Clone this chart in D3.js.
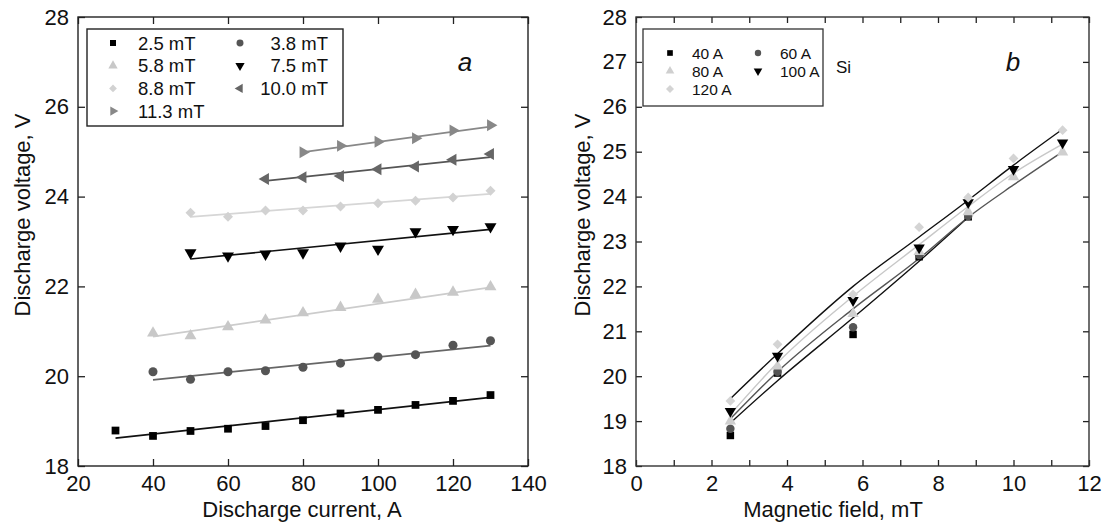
<!DOCTYPE html>
<html>
<head>
<meta charset="utf-8">
<script src="https://cdn.jsdelivr.net/npm/d3@7"></script>
<style>
  body { margin: 0; background: #fff; }
  svg text { font-family: "Liberation Sans", Arial, sans-serif; fill: #111; }
</style>
</head>
<body>
<div id="chart"></div>
<script>
// Panel a: voltage vs current for each field
var fieldLabels = ["2.5 mT", "3.8 mT", "5.8 mT", "7.5 mT", "8.8 mT", "10.0 mT", "11.3 mT"];
var current25 = [30, 40, 50, 60, 70, 80, 90, 100, 110, 120, 130];
var voltage25 = [18.79, 18.67, 18.78, 18.83, 18.89, 19.02, 19.17, 19.25, 19.36, 19.45, 19.58];
var current38 = [40, 50, 60, 70, 80, 90, 100, 110, 120, 130];
var voltage38 = [20.10, 19.93, 20.10, 20.12, 20.20, 20.29, 20.43, 20.48, 20.69, 20.79];
var current58 = [40, 50, 60, 70, 80, 90, 100, 110, 120, 130];
var voltage58 = [20.96, 20.90, 21.10, 21.25, 21.41, 21.53, 21.71, 21.82, 21.87, 21.99];
var current75 = [50, 60, 70, 80, 90, 100, 110, 120, 130];
var voltage75 = [22.75, 22.68, 22.72, 22.75, 22.90, 22.83, 23.22, 23.27, 23.33];
var current88 = [50, 60, 70, 80, 90, 100, 110, 120, 130];
var voltage88 = [23.64, 23.55, 23.69, 23.69, 23.78, 23.85, 23.91, 23.98, 24.13];
var current100 = [70, 80, 90, 100, 110, 120, 130];
var voltage100 = [24.39, 24.43, 24.46, 24.61, 24.67, 24.82, 24.95];
var current113 = [80, 90, 100, 110, 120, 130];
var voltage113 = [24.99, 25.13, 25.22, 25.30, 25.47, 25.59];
// linear fits, [start, end]
var fitCurrentA = [[30, 130], [40, 130], [40, 130], [50, 130], [50, 130], [70, 130], [80, 130]];
var fitVoltageA = [[18.62, 19.53], [19.92, 20.68], [20.88, 21.98], [22.61, 23.27], [23.55, 24.06], [24.35, 24.88], [24.99, 25.56]];

// Panel b: voltage vs field for each current
var currentLabels = ["40 A", "60 A", "80 A", "100 A", "120 A"];
var field = [2.5, 3.75, 5.75, 7.5, 8.8, 10, 11.3];
var v40 = [18.68, 20.07, 20.93, 22.66, 23.55];
var v60 = [18.83, 20.10, 21.09, 22.70, 23.57];
var v80 = [19.00, 20.22, 21.39, 22.77, 23.66, 24.44, 24.99];
var v100 = [19.22, 20.45, 21.69, 22.86, 23.87, 24.61, 25.20];
var v120 = [19.45, 20.71, 21.82, 23.32, 23.98, 24.85, 25.48];
// fitted curves
var fitTop = [19.50, 20.50, 22.00, 23.10, 23.92, 24.70, 25.50];
var fitLight = [19.15, 20.30, 21.78, 22.93, 23.78, 24.52, 25.17];
var fitGray = [19.05, 20.10, 21.50, 22.62, 23.54, 24.26, 25.00];
var fitBottom = [18.96, 19.90, 21.30, 22.56, 23.54];

var xTicksA = [20, 40, 60, 80, 100, 120, 140];
var yTicksA = [18, 20, 22, 24, 26, 28];
var xTicksB = d3.range(0, 13);
var yTicksB = d3.range(18, 29);

// styles
var symA = [d3.symbolSquare, d3.symbolCircle, d3.symbolTriangle, d3.symbolTriangle, d3.symbolSquare, d3.symbolTriangle, d3.symbolTriangle];
var rotA = [0, 0, 0, 180, 45, -90, 90];
var colA = ["#000", "#555", "#c8c8c8", "#000", "#d2d2d2", "#666", "#888"];
var lineColA = ["#111", "#666", "#ccc", "#111", "#d6d6d6", "#555", "#888"];
var sizeA = [60, 64, 62, 62, 50, 62, 62];
var symB = [d3.symbolSquare, d3.symbolCircle, d3.symbolTriangle, d3.symbolTriangle, d3.symbolSquare];
var rotB = [0, 0, 0, 180, 45];
var colB = ["#000", "#555", "#cfcfcf", "#000", "#d4d4d4"];

var width = 1106, height = 523;
var svg = d3.select("#chart").append("svg")
    .attr("width", width)
    .attr("height", height);

var xA = d3.scaleLinear().domain([20, 140]).range([78, 528]);
var yA = d3.scaleLinear().domain([18, 28]).range([466, 17]);
var xB = d3.scaleLinear().domain([0, 12]).range([636, 1089]);
var yB = d3.scaleLinear().domain([18, 28]).range([466, 17]);

function frame(x, y, color) {
    var x0 = x.range()[0], x1 = x.range()[1], y0 = y.range()[1], y1 = y.range()[0];
    svg.append("rect")
        .attr("x", x0).attr("y", y0)
        .attr("width", x1 - x0).attr("height", y1 - y0)
        .attr("fill", "none").attr("stroke", color).attr("stroke-width", 1.4);
}

function axes(x, y, xt, yt, xfmt, tick) {
    var x0 = x.range()[0], x1 = x.range()[1], y0 = y.range()[1], y1 = y.range()[0];
    var b = svg.append("g").attr("transform", `translate(0, ${y1})`)
        .call(d3.axisBottom(x).tickValues(xt).tickSizeInner(-tick).tickSizeOuter(0).tickPadding(9).tickFormat(xfmt));
    var t = svg.append("g").attr("transform", `translate(0, ${y0})`)
        .call(d3.axisTop(x).tickValues(xt).tickSizeInner(-tick).tickSizeOuter(0).tickFormat(""));
    var l = svg.append("g").attr("transform", `translate(${x0}, 0)`)
        .call(d3.axisLeft(y).tickValues(yt).tickSizeInner(-tick).tickSizeOuter(0).tickPadding(9));
    var r = svg.append("g").attr("transform", `translate(${x1}, 0)`)
        .call(d3.axisRight(y).tickValues(yt).tickSizeInner(-tick).tickSizeOuter(0).tickFormat(""));
    [b, t, l, r].forEach(g => {
        g.select(".domain").remove();
        g.selectAll("line").attr("stroke", "#222").attr("stroke-width", 1.3);
        g.selectAll("text").attr("font-size", 22).attr("fill", "#111")
            .attr("font-family", "'Liberation Sans', Arial, sans-serif");
    });
}

// ---- panel a ----
axes(xA, yA, xTicksA, yTicksA, d3.format("d"), 7);
frame(xA, yA, "#222");

var seriesA = [
    [current25, voltage25], [current38, voltage38], [current58, voltage58],
    [current75, voltage75], [current88, voltage88], [current100, voltage100], [current113, voltage113]
];

var lineA = d3.line().x(d => xA(d[0])).y(d => yA(d[1]));
fitCurrentA.forEach((c, i) => {
    svg.append("path")
        .attr("d", lineA([[c[0], fitVoltageA[i][0]], [c[1], fitVoltageA[i][1]]]))
        .attr("fill", "none").attr("stroke", lineColA[i]).attr("stroke-width", 1.7);
});

seriesA.forEach((s, i) => {
    var pts = s[0].map((c, j) => [c, s[1][j]]);
    svg.append("g").selectAll("path").data(pts).enter().append("path")
        .attr("d", d3.symbol().type(symA[i]).size(sizeA[i]))
        .attr("transform", d => `translate(${xA(d[0])}, ${yA(d[1])}) rotate(${rotA[i]})`)
        .attr("fill", colA[i]);
});

// legend a
svg.append("rect").attr("x", 87).attr("y", 29).attr("width", 256).attr("height", 97)
    .attr("fill", "#fff").attr("stroke", "#222").attr("stroke-width", 1.4);
fieldLabels.forEach((lab, i) => {
    var col = i % 2, row = Math.floor(i / 2);
    var sx = col === 0 ? 113 : 240;
    var sy = 43 + row * 22.7;
    svg.append("path")
        .attr("d", d3.symbol().type(symA[i]).size(sizeA[i] * 0.6))
        .attr("transform", `translate(${sx}, ${sy}) rotate(${rotA[i]})`)
        .attr("fill", colA[i]);
    svg.append("text")
        .attr("x", col === 0 ? 138 : 328).attr("y", sy + 6.5)
        .attr("text-anchor", col === 0 ? "start" : "end")
        .attr("font-size", 18.5).text(lab);
});
svg.append("text").attr("x", 465).attr("y", 71).attr("font-size", 26)
    .attr("font-style", "italic").attr("text-anchor", "middle").text("a");

svg.append("text").attr("x", 302).attr("y", 517).attr("font-size", 22)
    .attr("text-anchor", "middle").text("Discharge current, A");
svg.append("text").attr("transform", "translate(30, 215) rotate(-90)")
    .attr("font-size", 22).attr("text-anchor", "middle").text("Discharge voltage, V");

// ---- panel b ----
axes(xB, yB, xTicksB, yTicksB, d => (d % 2 === 0 ? d : ""), 6);
frame(xB, yB, "#333");

var lineB = d3.line().x(d => xB(d[0])).y(d => yB(d[1])).curve(d3.curveMonotoneX);
var fitsB = [fitBottom, fitGray, fitLight, fitTop];
var fitColB = ["#111", "#555", "#c8c8c8", "#111"];
fitsB.forEach((f, i) => {
    svg.append("path")
        .attr("d", lineB(f.map((v, j) => [field[j], v])))
        .attr("fill", "none").attr("stroke", fitColB[i]).attr("stroke-width", 1.4);
});

var seriesB = [v40, v60, v80, v100, v120];
seriesB.forEach((s, i) => {
    var pts = s.map((v, j) => [field[j], v]);
    svg.append("g").selectAll("path").data(pts).enter().append("path")
        .attr("d", d3.symbol().type(symB[i]).size(i === 4 ? 48 : 56))
        .attr("transform", d => `translate(${xB(d[0])}, ${yB(d[1])}) rotate(${rotB[i]})`)
        .attr("fill", colB[i]);
});

// legend b
svg.append("rect").attr("x", 643).attr("y", 29).attr("width", 180).attr("height", 77)
    .attr("fill", "#fff").attr("stroke", "#333").attr("stroke-width", 1.3);
currentLabels.forEach((lab, i) => {
    var col = i % 2, row = Math.floor(i / 2);
    var sx = col === 0 ? 670 : 758;
    var sy = 53 + row * 18;
    svg.append("path")
        .attr("d", d3.symbol().type(symB[i]).size(32))
        .attr("transform", `translate(${sx}, ${sy}) rotate(${rotB[i]})`)
        .attr("fill", colB[i]);
    svg.append("text")
        .attr("x", col === 0 ? 692 : 780).attr("y", sy + 5.5)
        .attr("font-size", 15.5).text(lab);
});
svg.append("text").attr("x", 836).attr("y", 73).attr("font-size", 17).text("Si");
svg.append("text").attr("x", 1013).attr("y", 71).attr("font-size", 26)
    .attr("font-style", "italic").attr("text-anchor", "middle").text("b");

svg.append("text").attr("x", 833).attr("y", 517).attr("font-size", 22)
    .attr("text-anchor", "middle").text("Magnetic field, mT");
svg.append("text").attr("transform", "translate(590, 215) rotate(-90)")
    .attr("font-size", 22).attr("text-anchor", "middle").text("Discharge voltage, V");
</script>
</body>
</html>
